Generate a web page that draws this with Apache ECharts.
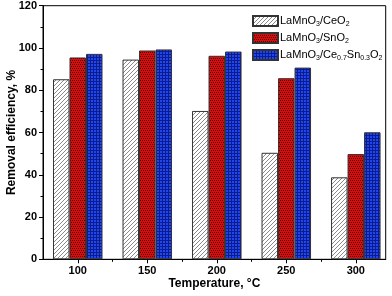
<!DOCTYPE html>
<html><head><meta charset="utf-8">
<script src="https://cdn.jsdelivr.net/npm/echarts@6/dist/echarts.min.js"></script>
<style>html,body{margin:0;padding:0;background:#fff}#c{width:392px;height:296px}</style>
</head><body><div id="c"></div>
<script>
// Data
var temperatures = [100, 150, 200, 250, 300];
var seriesNames = ['LaMnO3/CeO2', 'LaMnO3/SnO2', 'LaMnO3/Ce0.7Sn0.3O2'];
var legendLabels = ['LaMnO{s|3}/CeO{s|2}', 'LaMnO{s|3}/SnO{s|2}', 'LaMnO{s|3}/Ce{s|0.7}Sn{s|0.3}O{s|2}'];
var ceo2 = [85.2, 94.5, 70.2, 50.4, 38.8];
var sno2 = [95.5, 98.8, 96.3, 85.7, 49.8];
var cesn = [97.2, 99.3, 98.3, 90.7, 60.1];
var xMajorTicks = [100, 150, 200, 250, 300];
var xMinorTicks = [125, 175, 225, 275];

function pat(w, h, draw) {
  var c = document.createElement('canvas');
  c.width = w; c.height = h;
  var g = c.getContext('2d');
  draw(g);
  return { image: c, repeat: 'repeat' };
}
var hatch = pat(4, 4, function (g) {
  g.fillStyle = '#ffffff'; g.fillRect(0, 0, 4, 4);
  g.fillStyle = '#8a8a8a';
  for (var i = 0; i < 4; i++) { g.fillRect(i, 3 - i, 1, 1); }
});
var redPat = pat(4, 4, function (g) {
  g.fillStyle = '#e00a0a'; g.fillRect(0, 0, 4, 4);
  g.fillStyle = '#3a0000';
  g.fillRect(0, 0, 1, 1); g.fillRect(2, 0, 1, 1); g.fillRect(1, 2, 1, 1); g.fillRect(3, 2, 1, 1);
});
var bluePat = pat(3, 3, function (g) {
  g.fillStyle = '#2046f0'; g.fillRect(0, 0, 3, 3);
  g.fillStyle = '#0c1c8c';
  g.fillRect(0, 0, 3, 1); g.fillRect(0, 0, 1, 3);
});

function pairs(vals) { return temperatures.map(function (t, i) { return [t, vals[i]]; }); }

var font = 'Liberation Sans, Arial, sans-serif';
var chart = echarts.init(document.getElementById('c'), null, { renderer: 'canvas' });
var barStyle = { borderColor: '#333', borderWidth: 1 };
chart.setOption({
  animation: false,
  textStyle: { fontFamily: font },
  grid: { left: 43, right: 6.3, top: 5.7, bottom: 36.7, containLabel: false, outerBoundsMode: 'none',
          show: true, borderColor: '#000', borderWidth: 1 },
  legend: {
    left: 252, top: 14, padding: 0, orient: 'vertical', itemWidth: 25, itemHeight: 10, itemGap: 3,
    icon: 'rect',
    data: seriesNames,
    formatter: function (n) { return legendLabels[seriesNames.indexOf(n)]; },
    textStyle: {
      fontFamily: font, fontSize: 11, lineHeight: 14, color: '#000', padding: [0, 0, 0, -3],
      rich: { s: { fontSize: 7, lineHeight: 14, fontFamily: font, verticalAlign: 'bottom', padding: [5, 0, 0, 0], color: '#000' } }
    }
  },
  xAxis: [{
    type: 'value', min: 75, max: 321.5,
    name: 'Temperature, \u00B0C', nameLocation: 'middle', nameGap: 18, nameMoveOverlap: false,
    nameTextStyle: { fontFamily: font, fontSize: 12, fontWeight: 'bold', color: '#000' },
    axisLine: { lineStyle: { color: '#000', width: 1 } },
    axisTick: { inside: false, length: 4, customValues: xMajorTicks, lineStyle: { color: '#000' } },
    axisLabel: { customValues: xMajorTicks, fontFamily: font, fontSize: 11, fontWeight: 'bold', color: '#000', margin: 6 },
    splitLine: { show: false }
  }, {
    type: 'value', min: 75, max: 321.5, position: 'bottom',
    axisLine: { show: false },
    axisTick: { length: 2.5, customValues: xMinorTicks, lineStyle: { color: '#000' } },
    axisLabel: { show: false }, splitLine: { show: false }
  }],
  yAxis: {
    type: 'value', min: 0, max: 120, interval: 20,
    name: 'Removal efficiency, %', nameLocation: 'middle', nameGap: 25, nameMoveOverlap: false,
    nameTextStyle: { fontFamily: font, fontSize: 12, fontWeight: 'bold', color: '#000' },
    axisLine: { show: true, lineStyle: { color: '#000', width: 1 } },
    axisTick: { show: true, length: 4, lineStyle: { color: '#000' } },
    minorTick: { show: true, splitNumber: 2, length: 2.5, lineStyle: { color: '#000' } },
    axisLabel: { fontFamily: font, fontSize: 11, fontWeight: 'bold', color: '#000', margin: 6 },
    splitLine: { show: false }
  },
  series: [
    { name: seriesNames[0], type: 'bar', data: pairs(ceo2), barWidth: 16.5, barGap: '0%', itemStyle: Object.assign({ color: hatch }, barStyle) },
    { name: seriesNames[1], type: 'bar', data: pairs(sno2), barWidth: 16.5, barGap: '0%', itemStyle: Object.assign({ color: redPat }, barStyle) },
    { name: seriesNames[2], type: 'bar', data: pairs(cesn), barWidth: 16.5, barGap: '0%', itemStyle: Object.assign({ color: bluePat }, barStyle) }
  ]
});
</script></body></html>
